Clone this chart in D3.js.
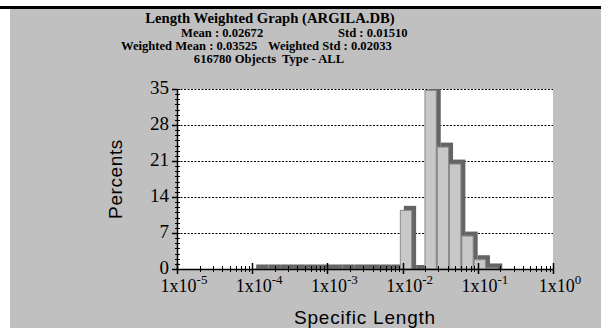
<!DOCTYPE html>
<html>
<head>
<meta charset="utf-8">
<script src="https://cdn.jsdelivr.net/npm/d3@7"></script>
<style>
  body { margin: 0; background: #fff; }
  svg { display: block; }
  text { white-space: pre; }
</style>
</head>
<body>
<div id="chart"></div>
<script>
// histogram bin edges (Specific Length)
const binEdges = [
  1.000e-4, 1.458e-4, 2.126e-4, 3.096e-4, 4.513e-4, 6.577e-4, 9.585e-4,
  1.397e-3, 2.036e-3, 2.968e-3, 4.325e-3, 6.304e-3, 9.188e-3,
  1.339e-2, 1.952e-2, 2.844e-2, 4.146e-2, 6.042e-2, 8.807e-2, 1.283e-1, 1.871e-1
]
// percent per bin
const percents = [
  0.1, 0.1, 0.1, 0.1, 0.1, 0.1, 0.1, 0.1, 0.1, 0.1, 0.1, 0.1,
  11.5, 0, 34.8, 23.8, 20.5, 6.5, 1.9, 0.3
]
const yTicks = [0, 7, 14, 21, 28, 35]
const xDecades = [-5, -4, -3, -2, -1, 0]

const titleLines = [
  'Length Weighted Graph (ARGILA.DB)',
  '616780 Objects  Type - ALL'
]
const statsLeft = ['Mean : 0.02672', 'Weighted Mean : 0.03525']
const statsRight = ['Std : 0.01510', 'Weighted Std : 0.02033']

const W = 601
const H = 328
const plot = { left: 177, right: 553, top: 89, bottom: 269 }
const serif = 'Liberation Serif, Times New Roman, serif'
const sans = 'Liberation Sans, Arial, sans-serif'

const svg = d3
  .select('#chart')
  .append('svg')
  .attr('width', W)
  .attr('height', H)

// window frame
svg.append('rect').attr('x', 10).attr('y', 9).attr('width', W - 10).attr('height', H - 9).attr('fill', '#c0c0c0')
svg.append('rect').attr('x', 0).attr('y', 6).attr('width', W).attr('height', 3).attr('fill', '#000')

const x = d3.scaleLog().domain([1e-5, 1]).range([plot.left, plot.right])
const y = d3.scaleLinear().domain([0, 35]).range([plot.bottom, plot.top])

svg
  .append('rect')
  .attr('x', plot.left)
  .attr('y', plot.top)
  .attr('width', plot.right - plot.left)
  .attr('height', plot.bottom - plot.top)
  .attr('fill', '#fff')

// dotted grid
svg
  .selectAll('.grid')
  .data(yTicks.filter(d => d > 0))
  .enter()
  .append('line')
  .attr('class', 'grid')
  .attr('x1', plot.left)
  .attr('x2', plot.right)
  .attr('y1', d => y(d) + 0.5)
  .attr('y2', d => y(d) + 0.5)
  .attr('stroke', '#000')
  .attr('stroke-width', 1)
  .attr('stroke-dasharray', '2,1.5')

const bins = percents.map((p, i) => ({ x0: binEdges[i], x1: binEdges[i + 1], p: p }))

svg.append('clipPath').attr('id', 'clip')
  .append('rect')
  .attr('x', plot.left).attr('y', plot.top)
  .attr('width', plot.right - plot.left).attr('height', plot.bottom - plot.top)

const g = svg.append('g').attr('clip-path', 'url(#clip)')

// shadow, shifted right and up
const off = 4
g.selectAll('.shadow')
  .data(bins)
  .enter()
  .append('rect')
  .attr('class', 'shadow')
  .attr('x', d => x(d.x0) + off)
  .attr('width', d => x(d.x1) - x(d.x0))
  .attr('y', d => y(d.p) - off)
  .attr('height', d => y(0) - y(d.p) + off)
  .attr('fill', '#646464')

g.selectAll('.bar')
  .data(bins.filter(d => d.p > 0))
  .enter()
  .append('rect')
  .attr('class', 'bar')
  .attr('x', d => x(d.x0) + 0.5)
  .attr('width', d => x(d.x1) - x(d.x0) - 1)
  .attr('y', d => y(d.p) + 0.5)
  .attr('height', d => Math.max(0, y(0) - y(d.p) - 0.5))
  .attr('fill', '#c8c8c8')
  .attr('stroke', '#8c8c8c')
  .attr('stroke-width', 1)

// x axis with log minor ticks
const ax = svg.append('g')
ax.append('line')
  .attr('x1', plot.left).attr('x2', plot.right)
  .attr('y1', plot.bottom + 0.5).attr('y2', plot.bottom + 0.5)
  .attr('stroke', '#000').attr('stroke-width', 1.5)

const xMinor = []
xDecades.slice(0, -1).forEach(e => {
  d3.range(2, 10).forEach(m => xMinor.push(m * Math.pow(10, e)))
})
ax.selectAll('.xminor')
  .data(xMinor)
  .enter()
  .append('line')
  .attr('x1', d => Math.round(x(d)) + 0.5)
  .attr('x2', d => Math.round(x(d)) + 0.5)
  .attr('y1', plot.bottom - 3)
  .attr('y2', plot.bottom + 3)
  .attr('stroke', '#000')
ax.selectAll('.xmajor')
  .data(xDecades)
  .enter()
  .append('line')
  .attr('x1', d => Math.round(x(Math.pow(10, d))) + 0.5)
  .attr('x2', d => Math.round(x(Math.pow(10, d))) + 0.5)
  .attr('y1', plot.bottom - 6)
  .attr('y2', plot.bottom + 5)
  .attr('stroke', '#000')
  .attr('stroke-width', 1.5)

const xl = ax.selectAll('.xlab')
  .data(xDecades)
  .enter()
  .append('text')
  .attr('x', d => x(Math.pow(10, d)) + 7)
  .attr('y', 292)
  .attr('text-anchor', 'middle')
  .attr('font-family', serif)
  .attr('font-size', 18)
xl.append('tspan').text('1x10')
xl.append('tspan')
  .attr('dy', -8)
  .attr('font-size', 13)
  .text(d => d)

// y axis
const ay = svg.append('g')
ay.append('line')
  .attr('x1', plot.left + 0.5).attr('x2', plot.left + 0.5)
  .attr('y1', plot.top).attr('y2', plot.bottom + 1)
  .attr('stroke', '#000').attr('stroke-width', 1.5)
ay.selectAll('.yminor')
  .data(d3.range(0, 36))
  .enter()
  .append('line')
  .attr('x1', plot.left - 2)
  .attr('x2', plot.left + 3)
  .attr('y1', d => Math.round(y(d)) + 0.5)
  .attr('y2', d => Math.round(y(d)) + 0.5)
  .attr('stroke', '#000')
ay.selectAll('.ymajor')
  .data(yTicks)
  .enter()
  .append('line')
  .attr('x1', plot.left - 5)
  .attr('x2', plot.left)
  .attr('y1', d => Math.round(y(d)) + 0.5)
  .attr('y2', d => Math.round(y(d)) + 0.5)
  .attr('stroke', '#000')
  .attr('stroke-width', 1.5)
ay.selectAll('.ylab')
  .data(yTicks)
  .enter()
  .append('text')
  .attr('x', plot.left - 8)
  .attr('y', d => y(d) + 5)
  .attr('text-anchor', 'end')
  .attr('font-family', serif)
  .attr('font-size', 19)
  .text(d => d)

// axis titles
svg.append('text')
  .attr('x', (plot.left + plot.right) / 2)
  .attr('y', 324)
  .attr('text-anchor', 'middle')
  .attr('font-family', sans)
  .attr('font-size', 19)
  .attr('letter-spacing', 0.8)
  .text('Specific Length')

svg.append('text')
  .attr('transform', 'translate(122,' + (plot.top + plot.bottom) / 2 + ') rotate(-90)')
  .attr('text-anchor', 'middle')
  .attr('font-family', sans)
  .attr('font-size', 19)
  .attr('letter-spacing', 0.6)
  .text('Percents')

// header
svg.append('text')
  .attr('x', 270).attr('y', 23)
  .attr('text-anchor', 'middle')
  .attr('font-family', serif).attr('font-weight', 'bold').attr('font-size', 14.7)
  .text(titleLines[0])
svg.append('text')
  .attr('x', 269).attr('y', 63)
  .attr('text-anchor', 'middle')
  .attr('font-family', serif).attr('font-weight', 'bold').attr('font-size', 12.6)
  .text(titleLines[1])

const statX = [[181, 338], [121, 268]]
statsLeft.forEach((s, i) => {
  svg.append('text')
    .attr('x', statX[i][0]).attr('y', 37 + i * 13)
    .attr('font-family', serif).attr('font-weight', 'bold').attr('font-size', 12.6)
    .text(s)
  svg.append('text')
    .attr('x', statX[i][1]).attr('y', 37 + i * 13)
    .attr('font-family', serif).attr('font-weight', 'bold').attr('font-size', 12.6)
    .text(statsRight[i])
})
</script>
</body>
</html>
